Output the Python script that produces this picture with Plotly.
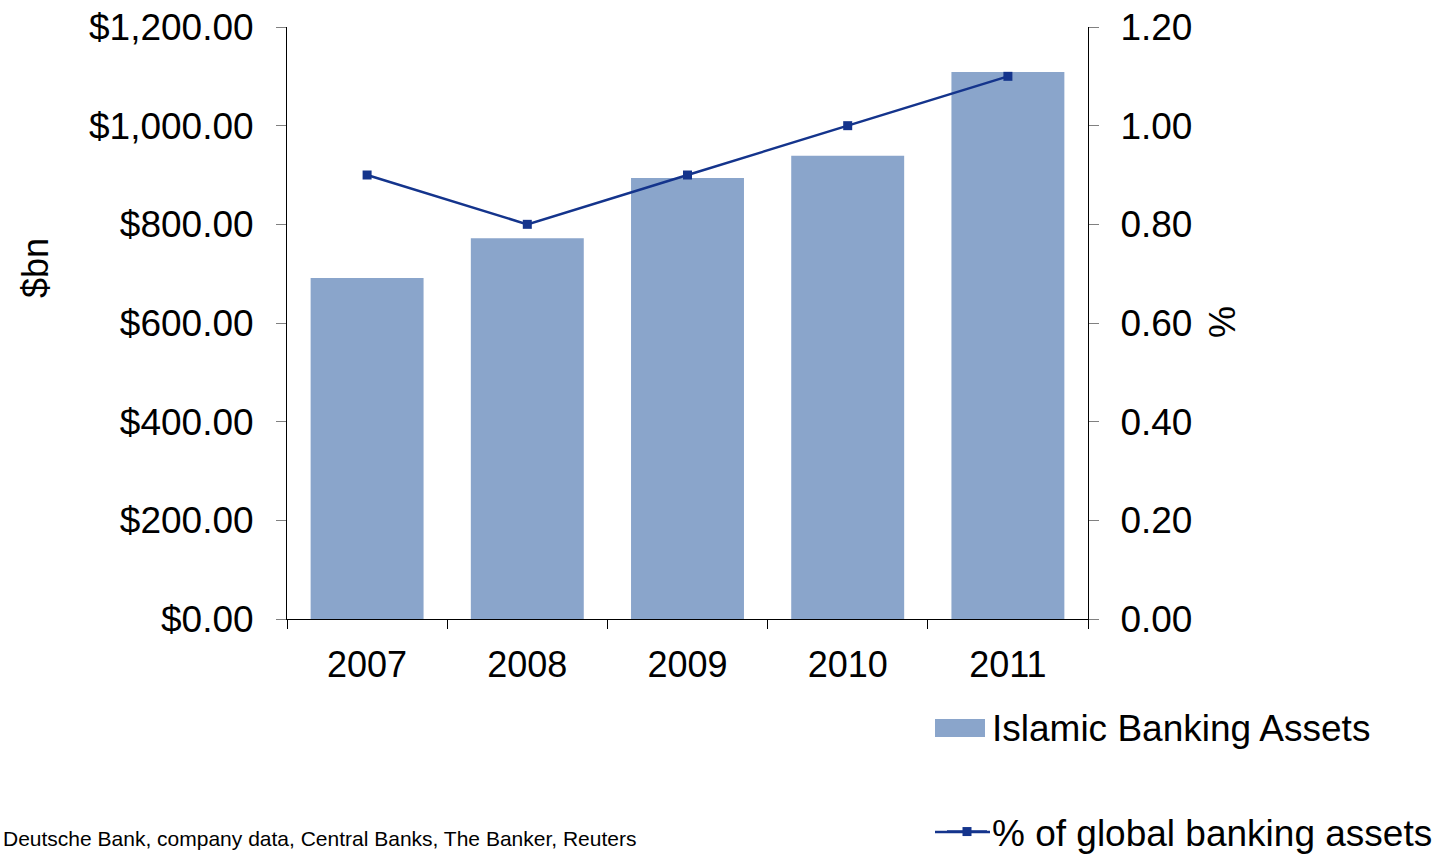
import plotly.graph_objects as go

years = ["2007", "2008", "2009", "2010", "2011"]
assets = [691, 772, 894, 939, 1109]
pct_global = [0.9, 0.8, 0.9, 1.0, 1.1]

W, H = 1441, 855
L, R, T, B = 287, 353, 27, 236
pw = W - L - R
ph = H - T - B

FONT = "Liberation Sans, Arial, sans-serif"
BAR = "#8AA5CB"
LINE = "#14348C"
FS = 36

fig = go.Figure()
fig.add_trace(go.Bar(
    x=years, y=assets, name="Islamic Banking Assets",
    marker=dict(color=BAR, line=dict(width=0)),
    legend="legend",
))
fig.add_trace(go.Scatter(
    x=years, y=pct_global, name="% of global banking assets", yaxis="y2",
    mode="lines+markers",
    line=dict(color=LINE, width=2.5),
    marker=dict(symbol="square", size=9, color=LINE),
    legend="legend2",
))

def px_x(p):
    return (p - L) / pw

def px_y(p):
    return (H - B - p) / ph

fig.update_layout(
    width=W, height=H,
    margin=dict(l=L, r=R, t=T, b=B, autoexpand=False),
    paper_bgcolor="white", plot_bgcolor="white",
    font=dict(family=FONT, size=FS, color="black"),
    bargap=0.295,
    showlegend=True,
    xaxis=dict(
        showline=True, linecolor="black", linewidth=1,
        ticks="outside", tickson="boundaries", ticklen=9, tickcolor="black",
        tickfont=dict(size=FS), showgrid=False, ticklabelstandoff=14,
    ),
    yaxis=dict(
        range=[0, 1200], dtick=200, tickformat="$,.2f",
        showline=True, linecolor="black", linewidth=1,
        ticks="outside", ticklen=10, tickcolor="#808080",
        tickfont=dict(size=37),
        showgrid=False, zeroline=False, ticklabelstandoff=15,
    ),
    yaxis2=dict(
        range=[0, 1.2], dtick=0.2, tickformat=".2f", overlaying="y", side="right",
        showline=True, linecolor="black", linewidth=1,
        ticks="outside", ticklen=10, tickcolor="#808080",
        tickfont=dict(size=37),
        showgrid=False, zeroline=False, ticklabelstandoff=14,
    ),
    legend=dict(
        x=px_x(942), y=px_y(696), xanchor="left", yanchor="top",
        font=dict(size=37), bgcolor="rgba(0,0,0,0)", itemwidth=40,
    ),
    legend2=dict(
        x=px_x(942), y=px_y(801), xanchor="left", yanchor="top",
        font=dict(size=37), bgcolor="rgba(0,0,0,0)", itemwidth=40,
    ),
    shapes=[
        dict(type="rect", xref="paper", yref="paper",
             x0=px_x(935), x1=px_x(985), y0=px_y(737), y1=px_y(719),
             fillcolor=BAR, line=dict(width=0), layer="above"),
        dict(type="line", xref="paper", yref="paper",
             x0=px_x(935), x1=px_x(990), y0=px_y(832), y1=px_y(832),
             line=dict(color=LINE, width=2.5), layer="above"),
    ],
    annotations=[
        dict(text="$bn", xref="paper", yref="paper", x=px_x(35), y=px_y(268),
             xanchor="center", yanchor="middle", textangle=-90, showarrow=False,
             font=dict(size=FS)),
        dict(text="%", xref="paper", yref="paper", x=px_x(1222), y=px_y(322),
             xanchor="center", yanchor="middle", textangle=-90, showarrow=False,
             font=dict(size=FS)),
        dict(text="Deutsche Bank, company data, Central Banks, The Banker, Reuters",
             xref="paper", yref="paper", x=px_x(1), y=px_y(838),
             xanchor="left", yanchor="middle", showarrow=False,
             font=dict(size=21)),
    ],
)

fig.write_html("out.html", config={"displayModeBar": False},
               post_script="document.body.style.margin='0';document.body.style.padding='0';")
